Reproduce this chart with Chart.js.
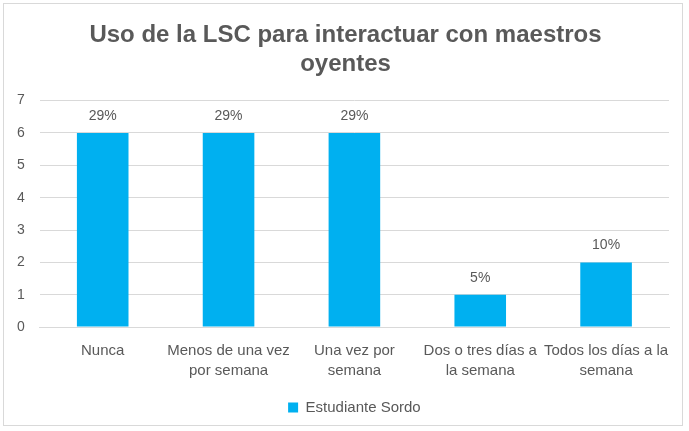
<!DOCTYPE html>
<html><head><meta charset="utf-8">
<script src="https://cdn.jsdelivr.net/npm/chart.js@4/dist/chart.umd.min.js"></script>
<style>
html,body{margin:0;padding:0;background:#fff;}
#frame{position:absolute;left:3px;top:3px;width:680px;height:423px;border:1px solid #d9d9d9;box-sizing:border-box;}
#wrap{position:absolute;left:0;top:0;width:689px;height:431px;}
</style></head>
<body>
<div id="frame"></div>
<div id="wrap"><canvas id="c" width="689" height="431"></canvas></div>
<script>
const categories = [["Nunca"],["Menos de una vez","por semana"],["Una vez por","semana"],["Dos o tres días a","la semana"],["Todos los días a la","semana"]];
const values = [6, 6, 6, 1, 2];
const percentLabels = ["29%","29%","29%","5%","10%"];
const seriesName = "Estudiante Sordo";
const yTicks = [0,1,2,3,4,5,6,7];

const textColor = "#595959";
const fam = '"Liberation Sans", Arial, sans-serif';
const labelPlugin = {
  id: 'pctLabels',
  afterDatasetsDraw(chart) {
    const ctx = chart.ctx;
    const meta = chart.getDatasetMeta(0);
    ctx.save();
    ctx.font = '14px ' + fam;
    ctx.fillStyle = textColor;
    ctx.textAlign = 'center';
    ctx.textBaseline = 'middle';
    meta.data.forEach((bar, i) => {
      ctx.fillText(percentLabels[i], bar.x, bar.y - 17);
    });
    ctx.restore();
  }
};

new Chart(document.getElementById('c'), {
  type: 'bar',
  data: {
    labels: categories,
    datasets: [{
      label: seriesName,
      data: values,
      backgroundColor: '#00B0F0',
      borderWidth: 0,
      categoryPercentage: 1.0,
      barPercentage: 0.41
    }]
  },
  options: {
    responsive: false,
    animation: false,
    devicePixelRatio: 1,
    layout: { padding: { left: 2, right: 0, top: 21, bottom: 6 } },
    plugins: {
      title: {
        display: true,
        text: ["Uso de la LSC para interactuar con maestros", "oyentes"],
        color: textColor,
        font: { family: fam, size: 24, weight: 'bold' },
        lineHeight: 1.25,
        padding: { top: 0, bottom: 22 }
      },
      legend: {
        position: 'bottom',
        fullSize: false,
        labels: {
          boxWidth: 10, boxHeight: 10, color: textColor,
          font: { family: fam, size: 15 },
          padding: 5
        }
      },
      tooltip: { enabled: false }
    },
    scales: {
      y: {
        min: 0, max: 7,
        afterBuildTicks(scale) { scale.ticks = yTicks.map(v => ({ value: v })); },
        ticks: { color: textColor, font: { family: fam, size: 14 }, padding: 15 },
        grid: { color: '#d9d9d9', drawTicks: false, lineWidth: 1 },
        border: { display: false }
      },
      yR: {
        position: 'right',
        display: true,
        ticks: { display: false },
        grid: { display: false, drawTicks: false },
        border: { display: false },
        afterFit(scale) { scale.width = 20; }
      },
      x: {
        ticks: { color: textColor, font: { family: fam, size: 15, lineHeight: 1.33 }, padding: 14, maxRotation: 0, autoSkip: false },
        grid: { display: false, drawTicks: false },
        border: { display: true, color: '#d9d9d9' }
      }
    }
  },
  plugins: [labelPlugin]
});
</script>
</body></html>
